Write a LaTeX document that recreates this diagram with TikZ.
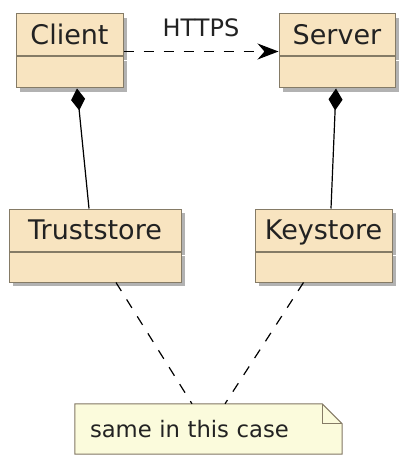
\documentclass[tikz,border=0pt]{standalone}
\usepackage{fontspec}
\setmainfont{DejaVu Sans}
\usetikzlibrary{positioning,arrows.meta,shadows,calc,backgrounds}

\definecolor{classfill}{HTML}{F8E4C0}
\definecolor{classline}{HTML}{857B66}
\definecolor{notefill}{HTML}{FBFBDC}
\definecolor{textdark}{HTML}{222222}

\tikzset{
	boxshadow/.style={drop shadow={shadow xshift=4pt, shadow yshift=-4pt, fill=black, opacity=.3}},
	classhead/.style={draw=classline, fill=classfill, line width=1pt, minimum height=42pt,
		inner sep=0pt, text height=19.7pt, text depth=0pt, text=textdark,
		font=\fontsize{27}{30}\selectfont, boxshadow},
	classbody/.style={draw=classline, fill=classfill, line width=1pt, minimum height=31pt,
		inner sep=0pt, boxshadow},
	compose/.style={line width=1.2pt, -{Diamond[length=22pt, width=14pt]}},
	secure/.style={line width=1.2pt, dash pattern=on 10pt off 10pt, -{Stealth[length=21pt, width=16pt, inset=7pt]}},
	notelink/.style={line width=1.2pt, dash pattern=on 10pt off 10pt},
}

\begin{document}
\begin{tikzpicture}[x=1pt, y=-1pt]
	\useasboundingbox (0,0) rectangle (409,457);

	% classes
	\node[classhead, minimum width=107pt] (client) at (69.5,35) {Client};
	\node[classbody, minimum width=107pt, below=0pt of client] (clientb) {};
	\node[classhead, minimum width=116pt] (server) at (337,35) {Server};
	\node[classbody, minimum width=116pt, below=0pt of server] (serverb) {};
	\node[classhead, minimum width=172pt] (trust) at (95,230) {Truststore};
	\node[classbody, minimum width=172pt, minimum height=30pt, below=0pt of trust] (trustb) {};
	\node[classhead, minimum width=137pt] (keys) at (323.5,230) {Keystore};
	\node[classbody, minimum width=137pt, minimum height=30pt, below=0pt of keys] (keysb) {};

	% note
	\node[text=textdark, align=left, text width=237pt, inner xsep=15pt, minimum height=50pt,
		font=\fontsize{22.7}{26}\selectfont] (note) at (208.5,429) {same in this case};
	\begin{scope}[on background layer]
		\fill[black, opacity=.3, xshift=4pt, yshift=-4pt]
			(note.north west) -- ($(note.north east)+(-20,0)$) -- ($(note.north east)+(0,20)$)
			-- (note.south east) -- (note.south west) -- cycle;
		\draw[classline, fill=notefill, line width=1pt]
			(note.north west) -- ($(note.north east)+(-20,0)$) -- ($(note.north east)+(0,20)$)
			-- (note.south east) -- (note.south west) -- cycle;
		\draw[classline, line width=1pt]
			($(note.north east)+(-20,0)$) -- ($(note.north east)+(-20,20)$) -- ($(note.north east)+(0,20)$);
	\end{scope}

	% links
	\draw[secure] ([yshift=5pt]client.south east) -- ([yshift=5pt]server.south west)
		node[midway, above=14pt, inner sep=0pt, text=textdark, font=\fontsize{24}{28}\selectfont] {HTTPS};
	\draw[compose] ($(trust.north)+(-6,0)$) -- ($(clientb.south)+(7.5,0)$);
	\draw[compose] ($(keys.north)+(7.5,0)$) -- ($(serverb.south)+(-1,0)$);
	\draw[notelink] ($(trustb.south)+(21,0)$) -- ($(note.north)+(-16.5,0)$);
	\draw[notelink] ($(keysb.south)+(-20,0)$) -- ($(note.north)+(16.5,0)$);
\end{tikzpicture}
\end{document}
